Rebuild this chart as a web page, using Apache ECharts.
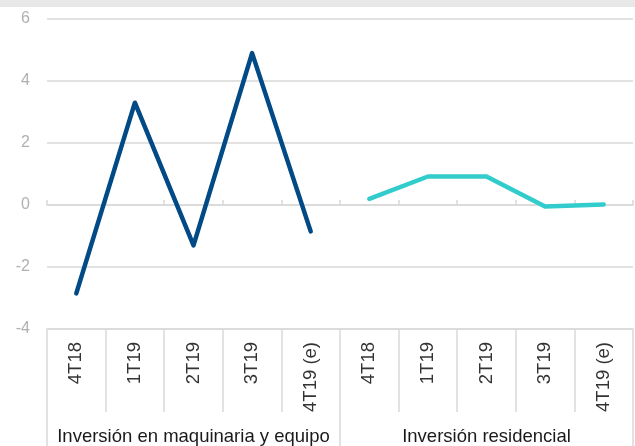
<!DOCTYPE html>
<html>
<head>
<meta charset="utf-8">
<script src="https://cdn.jsdelivr.net/npm/echarts@6/dist/echarts.min.js"></script>
<style>
  html, body { margin: 0; padding: 0; background: #fff; }
  #top-band { width: 635px; height: 7px; background: #e8e8e8; }
  #chart { width: 635px; height: 439px; }
</style>
</head>
<body>
<div id="top-band"></div>
<div id="chart"></div>
<script>
// categorias del eje X (dos grupos de cinco trimestres)
var quarters = ['4T18', '1T19', '2T19', '3T19', '4T19 (e)', '4T18', '1T19', '2T19', '3T19', '4T19 (e)'];
var groups = ['Inversión en maquinaria y equipo', 'Inversión residencial'];
// valores
var maquinaria = [-2.85, 3.3, -1.3, 4.9, -0.85, null, null, null, null, null];
var residencial = [null, null, null, null, null, 0.2, 0.92, 0.92, -0.05, 0.02];
var yTicks = { min: -4, max: 6, step: 2 };

var gridColor = '#d9d9d9';
var font = 'Liberation Sans, Arial, sans-serif';

var myChart = echarts.init(document.getElementById('chart'), null, { renderer: 'canvas' });

var option = {
    animation: false,
    grid: { left: 47, right: 2, top: 12, bottom: 117 },
    xAxis: [
        {
            // trimestres
            type: 'category',
            data: quarters,
            position: 'bottom',
            axisLine: { onZero: false, lineStyle: { color: gridColor, width: 1.5 } },
            axisTick: { show: true, length: 83, interval: 0, lineStyle: { color: gridColor, width: 1.5 } },
            axisLabel: {
                rotate: 90, interval: 0, margin: 13,
                color: '#333', fontSize: 18.5, fontFamily: font
            }
        },
        {
            // grupos
            type: 'category',
            data: groups,
            position: 'bottom',
            axisLine: { onZero: false, show: false },
            axisTick: { show: true, length: 117, interval: 0, lineStyle: { color: gridColor, width: 1.5 } },
            axisLabel: { margin: 98, interval: 0, color: '#1a1a1a', fontSize: 18.5, fontFamily: font }
        },
        {
            // linea en cero con marcas
            type: 'category',
            data: quarters,
            axisLine: { onZero: true, lineStyle: { color: gridColor, width: 1.5 } },
            axisTick: { show: true, length: 5, interval: 0, lineStyle: { color: gridColor, width: 1.5 } },
            axisLabel: { show: false }
        }
    ],
    yAxis: {
        type: 'value',
        min: yTicks.min,
        max: yTicks.max,
        interval: yTicks.step,
        axisLine: { show: false },
        axisTick: { show: false },
        axisLabel: { margin: 17, color: '#b0b0b0', fontSize: 16, fontFamily: font },
        splitLine: { lineStyle: { color: gridColor, width: 1.5 } }
    },
    series: [
        {
            name: 'Inversión en maquinaria y equipo',
            type: 'line',
            data: maquinaria,
            showSymbol: false,
            symbol: 'none',
            lineStyle: { color: '#024a86', width: 4.5, cap: 'round', join: 'round' }
        },
        {
            name: 'Inversión residencial',
            type: 'line',
            data: residencial,
            showSymbol: false,
            symbol: 'none',
            lineStyle: { color: '#33cccc', width: 4.5, cap: 'round', join: 'round' }
        }
    ]
};
myChart.setOption(option);
</script>
</body>
</html>
